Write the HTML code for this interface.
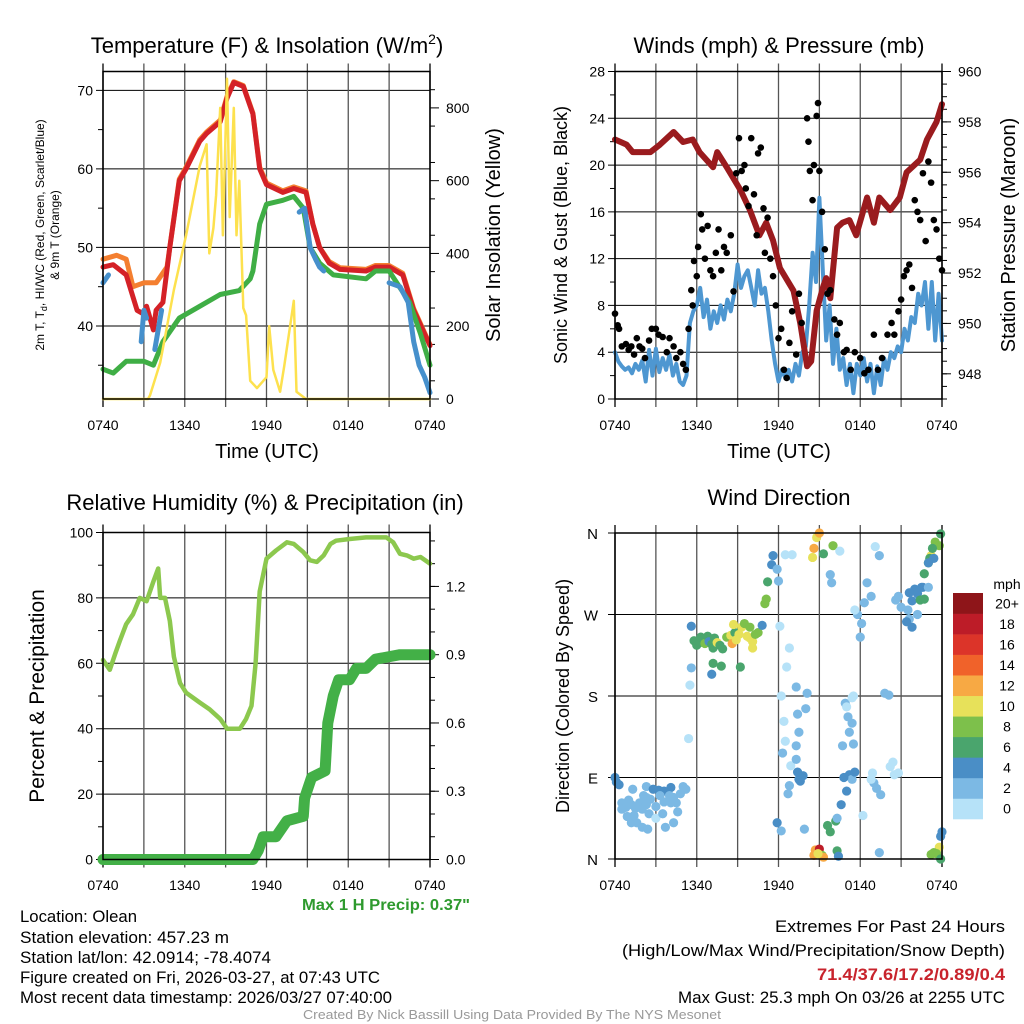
<!DOCTYPE html>
<html><head><meta charset="utf-8"><style>
html,body{margin:0;padding:0;background:#fff;}
svg{display:block;font-family:"Liberation Sans",sans-serif;}
</style></head><body>
<svg id="fig" width="1024" height="1024" viewBox="0 0 1024 1024" xmlns="http://www.w3.org/2000/svg">
<text x="267" y="53" font-size="22" text-anchor="middle">Temperature (F) &amp; Insolation (W/m<tspan font-size="14" dy="-9">2</tspan><tspan dy="9">)</tspan></text>
<text x="779" y="45" font-size="22" text-anchor="middle" dy="8">Winds (mph) &amp; Pressure (mb)</text>
<text x="265" y="510" font-size="22" text-anchor="middle">Relative Humidity (%) &amp; Precipitation (in)</text>
<text x="779" y="505" font-size="22" text-anchor="middle">Wind Direction</text>

<g font-size="12" text-anchor="middle">
<text transform="translate(44,235) rotate(-90)">2m T, T<tspan font-size="9" dy="3">d</tspan><tspan dy="-3">, HI/WC (Red, Green, Scarlet/Blue)</tspan></text>
<text transform="translate(59,235) rotate(-90)">&amp; 9m T (Orange)</text>
</g>
<text transform="translate(500,235) rotate(-90)" font-size="20" text-anchor="middle">Solar Insolation (Yellow)</text>
<text x="267" y="458" font-size="20" text-anchor="middle">Time (UTC)</text>
<text transform="translate(567,235) rotate(-90)" font-size="18" text-anchor="middle">Sonic Wind &amp; Gust (Blue, Black)</text>
<text transform="translate(1015,235) rotate(-90)" font-size="20" text-anchor="middle">Station Pressure (Maroon)</text>
<text x="779" y="458" font-size="20" text-anchor="middle">Time (UTC)</text>
<text transform="translate(44,696) rotate(-90)" font-size="21" text-anchor="middle">Percent &amp; Precipitation</text>
<text transform="translate(569,696) rotate(-90)" font-size="18" text-anchor="middle">Direction (Colored By Speed)</text>
<text x="1007" y="589" font-size="14" text-anchor="middle">mph</text>

<g id="layer"></g>

<text x="302" y="910" font-size="16" font-weight="bold" fill="#2e9a2e" textLength="168" lengthAdjust="spacingAndGlyphs">Max 1 H Precip: 0.37"</text>
<g font-size="16.5">
<text x="20" y="922" textLength="117" lengthAdjust="spacingAndGlyphs">Location: Olean</text>
<text x="20" y="943" textLength="209" lengthAdjust="spacingAndGlyphs">Station elevation: 457.23 m</text>
<text x="20" y="963" textLength="251" lengthAdjust="spacingAndGlyphs">Station lat/lon: 42.0914; -78.4074</text>
<text x="20" y="983" textLength="360" lengthAdjust="spacingAndGlyphs">Figure created on Fri, 2026-03-27, at 07:43 UTC</text>
<text x="20" y="1003" textLength="372" lengthAdjust="spacingAndGlyphs">Most recent data timestamp: 2026/03/27 07:40:00</text>
</g>
<g font-size="16.5">
<text x="775" y="932" textLength="230" lengthAdjust="spacingAndGlyphs">Extremes For Past 24 Hours</text>
<text x="622" y="956" textLength="383" lengthAdjust="spacingAndGlyphs">(High/Low/Max Wind/Precipitation/Snow Depth)</text>
<text x="817" y="980" font-weight="bold" fill="#c8232c" textLength="188" lengthAdjust="spacingAndGlyphs">71.4/37.6/17.2/0.89/0.4</text>
<text x="678" y="1003" textLength="327" lengthAdjust="spacingAndGlyphs">Max Gust: 25.3 mph On 03/26 at 2255 UTC</text>
</g>
<text x="303" y="1019" font-size="12.5" fill="#999" textLength="418" lengthAdjust="spacingAndGlyphs">Created By Nick Bassill Using Data Provided By The NYS Mesonet</text>
</svg>
<script>
// ---------- data (hours since 0740 UTC, value) ----------
const timeTickLabels = ["0740","1340","1940","0140","0740"];
const tempTicks = [40,50,60,70];
const insolTicks = [0,200,400,600,800];
const windTicks = [0,4,8,12,16,20,24,28];
const presTicks = [948,950,952,954,956,958,960];
const rhTicks = [0,20,40,60,80,100];
const precipTicks = [0.0,0.3,0.6,0.9,1.2];
const dirTickLabels = ["N","E","S","W","N"];
const speedBinLabels = ["0","2","4","6","8","10","12","14","16","18","20+"];
const speedBinColors = ["#b6e2f8","#7cb9e4","#4a8ec6","#4aa56d","#7dc04b","#e7e15a","#f7a944","#f0622a","#dc3429","#bd1c28","#8e1519"];

const tempRed = [[0,47.5],[0.75,47.8],[1.7,46.5],[2.5,42],[3,41.5],[3.2,42.5],[3.7,39.5],[3.9,42],[4.4,43],[4.9,50],[5.6,58.5],[6.1,60],[7.1,63.5],[7.6,64.5],[8.6,66],[9.1,69],[9.6,71],[10.3,70.5],[11,67],[11.5,60],[12,58],[13.2,57],[14,57.5],[14.9,57],[15.4,53],[15.9,50],[16.6,48],[17.4,47.2],[19.3,47],[20,47.5],[21,47.5],[22,46.5],[22.8,42],[24,37.5]];
const tempOrange = [[0,48.5],[1,49],[1.7,48.5],[2.2,45],[3,45.5],[3.9,45.5],[4.7,47.5],[4.9,50],[5.6,58.7],[6.1,60.2],[7.1,63.7],[7.6,64.7],[8.6,66.2],[9.1,69.2],[9.6,71.1],[10.3,70.6],[11,67.1],[11.5,60.2],[12,58.2],[13.2,57.2],[14,57.7],[14.9,57.2],[15.4,53],[15.9,50],[16.6,48.2],[17.4,47.4],[19.3,47.2],[20,47.7],[21,47.7],[22,46.7],[22.8,42.2],[24,37.6]];
const tempGreen = [[0,34.5],[0.75,34],[1.7,35.5],[3,35.5],[3.7,35],[4.4,38],[5.6,41],[7.1,42.5],[8.6,44],[10,44.5],[10.8,46],[11,47],[11.5,53],[12,55.5],[13.2,56],[14,56.5],[14.7,55],[15.2,50],[15.9,48],[16.9,46.5],[19.3,46],[20,47],[21,47],[22.5,43],[23.3,39],[24,35]];
const tempBlue = [[0,45.5],[0.4,46.5],null,[2.8,38],[3.0,42],[3.2,41],null,[3.8,37],[4.0,39],[4.3,42],null,[14.4,54.5],[14.8,55],[15.2,50],[15.6,48.5],[15.9,47.5],[16.2,47],null,[21,45.5],[21.8,45],[22.4,43],[22.8,38],[23.2,35],[23.6,33.5],[24,31.5]];
const insolation = [[0,0],[3.3,0],[3.45,10],[4.2,100],[5.2,300],[6.1,450],[7.1,640],[7.6,700],[7.8,400],[8.1,470],[8.3,560],[8.6,800],[8.8,450],[9.1,880],[9.3,500],[9.6,800],[9.8,450],[10,600],[10.3,250],[10.5,230],[10.8,50],[11.3,30],[12,60],[12.2,200],[12.5,80],[13,20],[13.3,90],[14,270],[14.2,20],[14.9,0],[24,0]];

const pressure = [[0,957.3],[0.85,957.1],[1.3,956.8],[2.6,956.8],[3.3,957.1],[4.3,957.6],[5,957.2],[5.7,957.3],[6.2,956.8],[7.2,956.2],[7.5,956.8],[8.2,956.2],[9.2,955.3],[9.9,954.5],[10.6,953.5],[11.1,954.0],[11.6,953.3],[12.1,952.2],[13.1,951.3],[13.6,950.0],[14.1,948.3],[14.4,948.5],[14.8,950.5],[15.3,951.5],[15.5,951.8],[15.8,951.0],[16.3,953.8],[16.7,954.0],[17.2,954.1],[17.7,953.5],[18.5,955.0],[19,954.0],[19.4,955.0],[20.2,954.5],[20.9,955.0],[21.4,956.0],[22.4,956.5],[22.9,957.3],[23.6,958.0],[24,958.7]];
const windHours = [0,0.25,0.5,0.75,1,1.25,1.5,1.75,2,2.25,2.5,2.75,3,3.25,3.5,3.75,4,4.25,4.5,4.75,5,5.25,5.5,5.75,6,6.25,6.5,6.75,7,7.25,7.5,7.75,8,8.25,8.5,8.75,9,9.25,9.5,9.75,10,10.25,10.5,10.75,11,11.25,11.5,11.75,12,12.25,12.5,12.75,13,13.25,13.5,13.75,14,14.25,14.5,14.75,15,15.25,15.5,15.75,16,16.25,16.5,16.75,17,17.25,17.5,17.75,18,18.25,18.5,18.75,19,19.25,19.5,19.75,20,20.25,20.5,20.75,21,21.25,21.5,21.75,22,22.25,22.5,22.75,23,23.25,23.5,23.75,24];
const windSpeed = [4.0,3.2,2.8,2.5,2.7,2.2,3.0,2.5,3.3,1.5,4.2,2.0,4.3,2.3,3.5,2.5,3.8,2.0,3.0,1.5,1.2,2,6.5,7.5,8,9.5,7,8.5,6,7.5,6.5,8,6.8,8.5,7.5,9,11.5,9.5,10.5,11,9.5,8,11,9,9.5,7.5,5,3,1.5,2.5,1.8,2.5,1.5,3,2,4,4.5,8,12.5,10,17.2,11,5,8,3,6,2.5,3.5,1.2,3,0.5,3,2,3.5,1.5,3,0.5,2.8,1.2,3.5,2.5,4,3.5,4.5,4,6,5,7,6.5,9,8,10,6,10,5,9,5];
const gusts = [[0,7.3],[0.2,6.3],[0.3,6],[0.5,4.5],[0.8,4.7],[1,4.2],[1.2,4.5],[1.4,3.8],[1.6,5.2],[1.8,4.5],[2,4.3],[2.2,3.5],[2.5,5],[2.7,6],[3,6],[3.2,5.5],[3.5,5.3],[3.8,4],[4,5.2],[4.3,4.5],[4.5,3.5],[4.8,4],[5,3],[5.2,2.5],[5.4,6],[5.6,9.3],[5.7,8],[5.8,11.8],[6,10.5],[6.1,13],[6.3,15.8],[6.4,14.5],[6.6,12],[6.8,14.8],[7,11],[7.2,10.5],[7.4,12.5],[7.6,14.5],[7.8,11],[8,13],[8.2,12.5],[8.5,14],[8.7,9.2],[8.9,19.3],[9.1,22.3],[9.3,19.5],[9.5,20],[9.6,18],[9.8,16.5],[10,22.3],[10.2,17.5],[10.4,14],[10.5,21],[10.7,21.5],[10.9,16.3],[11,12.5],[11.2,15.5],[11.4,12],[11.6,10.5],[11.8,8],[12,5.2],[12.2,6],[12.4,2.5],[12.6,1.8],[12.8,4.8],[13,7.5],[13.3,3.8],[13.5,9],[13.7,6.5],[14.1,24],[14.2,22],[14.3,19.5],[14.5,17],[14.6,20],[14.8,24.2],[14.9,25.3],[15,19.5],[15.2,16],[15.4,12.8],[15.6,9],[15.8,9.3],[16.1,6.8],[16.3,5.5],[16.5,6.5],[16.8,4],[17,4.2],[17.3,2.5],[17.6,4],[18,3.5],[18.3,2.2],[18.6,2.5],[19,5.5],[19.3,2.5],[19.6,3.5],[20,5.5],[20.3,6.5],[20.5,5.5],[20.8,7.5],[21,8.5],[21.2,10.5],[21.4,11],[21.6,11.5],[21.8,9.5],[22,17],[22.2,16],[22.4,15.3],[22.6,19.3],[22.8,13.5],[23,20.3],[23.2,18.5],[23.4,15.3],[23.6,14.5],[23.8,12],[24,11]];

const relHumidity = [[0,61],[0.5,58],[0.9,63],[1.25,67],[1.7,72],[2.2,75],[2.7,80],[3.2,79],[3.7,85],[4.05,89],[4.2,80],[4.55,80],[4.9,73],[5.2,62],[5.65,54],[6.1,51],[7.1,48],[7.8,46],[8.6,43],[9.1,40],[10.05,40],[10.5,43],[10.9,47],[11.2,60],[11.5,82],[12,92],[12.7,94.5],[13.5,97],[14,96.5],[14.7,94],[15.2,91.5],[15.7,91],[16.2,93],[16.7,96.5],[17.1,97.5],[18.1,98],[19.3,98.5],[20.8,98.5],[21.3,97],[21.8,93.5],[22.3,93],[22.8,92],[23.3,92.5],[24,90.5]];
const precip = [[0,0],[11.0,0],[11.4,0.04],[11.75,0.1],[12.7,0.1],[13.5,0.17],[14.7,0.19],[14.8,0.27],[15.3,0.36],[16.3,0.39],[16.5,0.6],[16.9,0.72],[17.3,0.79],[18.1,0.79],[18.6,0.84],[19.3,0.84],[20,0.88],[21.8,0.9],[24,0.9]];

// [hour, direction deg, speed mph]
const windDir = [[0,90,4],[0.1,85,4],[0.3,82,4],[1.3,77,2],[2.3,80,2],[2.8,77,4],[3.2,76,4],[3.6,75,4],[4.1,79,4],[5.0,80,2],[5.2,77,2],[0.5,62,2],[0.8,57,2],[1,65,2],[1.2,60,2],[1.5,56,2],[1.8,62,2],[2,55,2],[2.3,60,2],[2.6,66,2],[3,58,2],[3.3,70,2],[3.6,63,2],[4,70,2],[4.3,68,2],[4.5,62,2],[4.8,72,2],[4.6,52,2],[1.2,40,2],[1.6,40,2],[2,35,2],[2.4,33,2],[3.7,35,2],[4.3,40,2],[0.9,47,2],[1.4,48,2],[2.5,50,2],[3,45,1],[3.5,50,2],[0.5,55,2],[2.1,70,3],[2.3,68,2],[4.1,62,2],
[5.6,257,4],[5.6,211,2],[5.5,192,0],[5.4,133,0],[5.8,241,6],[6,236,7],[6.2,239,6],[6.3,245,7],[6.5,243,6],[6.6,238,8],[6.8,246,6],[6.9,240,5],[7.1,237,7],[7.2,233,6],[7.3,244,6],[7.5,239,10],[7.7,236,7],[7.9,232,6],[7.8,213,6],[7.2,216,6],[7.1,204,4],[8.2,245,8],[8.5,247,10],[8.6,238,12],[8.8,250,7],[8.9,242,10],[9.1,248,10],[9.3,256,10],[9.5,260,9],[9.7,246,10],[9.9,244,10],[10.1,240,10],[10.3,248,9],[10.5,250,8],[9.2,212,7],[10.1,233,11],[8.7,259,10],[9.9,256,8],[10.8,258,4],[11,282,8],[11.1,287,8],[11.2,306,6],[11.6,335,4],[11.5,325,4],[11.9,320,3],[12,307,2],[12.1,257,0],[12.5,336,0],[13,336,0],[12.8,233,0],[12.6,212,0],[12.2,180,0],[12.4,152,0],[12.5,130,1],[12.3,117,3],[12.9,103,1],[13.4,96,4],[13.5,88,4],[13.8,92,4],[13.6,86,4],[13.3,110,2],[13.3,125,2],[13.5,140,2],[13.4,160,2],[14,166,2],[14.1,183,2],[13.3,190,2],[11.9,40,4],[12.2,31,2],[13.9,33,2],[12.8,81,2],[12.7,72,2],
[14.6,4,12],[14.7,10,12],[15.0,11,18],[15.2,4,8],[15.3,2,12],[16.3,9,6],[16.4,3,4],[14.9,6,10],[15.6,37,6],[15.8,30,6],[16.2,42,6],[14.6,343,12],[14.8,355,10],[15.0,360,12],[15.3,337,6],[14.5,333,10],[16.0,346,8],[16.5,340,1],[15.8,314,2],[15.9,305,2],[16.3,45,2],[16.6,60,4],[17,75,4],[17.2,93,4],[17.4,88,2],[16.7,125,2],[17.2,140,2],[17.4,150,2],[16.9,172,2],[17.0,168,1],[17.1,157,2],[17.5,127,2],[17.6,96,4],[16.8,90,4],[17.4,178,0],[17.5,180,0],[17.8,270,2],[18,245,2],[18.1,260,2],[17.6,275,0],[18.5,305,2],[19.1,345,0],[18.8,290,2],[18.3,283,2],[19.4,335,2],[20.6,286,2],[19.8,183,2],[20.1,181,2],[18.9,95,1],[19,84,2],[19.2,78,2],[19.5,71,2],[18.8,88,1],[20.2,102,1],[20.5,93,0],[20.4,107,1],[20.8,95,0],[18.2,48,1],[19.4,7,2],[20.8,290,2],[21,278,2],[21.5,275,2],[21.6,265,2],[22.2,270,2],[21.8,285,4],[22.2,293,4],[22.4,286,6],[22.6,300,4],[22,298,4],[21.4,262,4],[21.8,256,4],[22.5,300,4],[23,300,2],[22.7,315,6],[23,327,8],[23.2,335,10],[23.5,350,8],[23.8,346,8],[23.9,359,6],[23.3,343,6],[23.1,332,6],[23.4,332,4],[23,327,4],[22.7,287,6],[21.6,294,4],[24,30,4],[23.9,25,4],[23.8,13,10],[23.6,6,8],[23.9,0,6],[23.2,5,8],[23.4,7,8]];

// ---------- rendering ----------
const NS = "http://www.w3.org/2000/svg";
const layer = document.getElementById('layer');
function mk(tag, attrs, parent){
  const e = document.createElementNS(NS, tag);
  for (const k in attrs) e.setAttribute(k, attrs[k]);
  (parent || layer).appendChild(e);
  return e;
}
function scale(d0,d1,r0,r1){ return v => r0 + (v-d0)/(d1-d0)*(r1-r0); }

function panel(name, x0, x1, y0, y1){
  const g = mk('g', {});
  
  
  return {g, x0, x1, y0, y1, X: scale(0,24,x0,x1)};
}
function timeAxis(p, labelY){
  for (let k=0;k<=8;k++){
    const x = p.X(k*3);
    const l = mk('line', {x1:x, x2:x, y1:p.y0-8, y2:p.y1+8, stroke: (k==0||k==8)?'#000':'#555', 'stroke-width':1.3}, p.g);
    
    
  }
  timeTickLabels.forEach((t,i)=>{
    const tx = mk('text', {x:p.X(i*6), y:labelY, 'font-size':14, 'text-anchor':'middle'}, p.g);
    tx.textContent = t;
    
    
  });
}
function hGrid(p, Y, ticks){
  ticks.forEach(v=>{
    const y = Y(v);
    const l = mk('line', {x1:p.x0-7, x2:p.x1, y1:y, y2:y, stroke:'#000', 'stroke-width':1}, p.g);
    
    
  });
}
function leftLabels(p, Y, ticks, fmt, xoff){
  ticks.forEach((v,i)=>{
    const t = mk('text', {x:p.x0-(xoff||10), y:Y(v)+5, 'font-size':14, 'text-anchor':'end'}, p.g);
    t.textContent = fmt ? fmt(v,i) : v;
    
    
  });
}
function minorTicks(p, Y, start, end, step, side){
  for (let v=start; v<=end+1e-9; v+=step){
    const y = Y(v);
    const x = side==='left'? p.x0 : p.x1;
    const d = side==='left'? -5 : 5;
    const l = mk('line', {x1:x, x2:x+d, y1:y, y2:y, stroke:'#000', 'stroke-width':1}, p.g);
    
    
  }
}
function rightAxis(p, Y, ticks, fmt){
  ticks.forEach(v=>{
    const y = Y(v);
    const l = mk('line', {x1:p.x1, x2:p.x1+9, y1:y, y2:y, stroke:'#000', 'stroke-width':1}, p.g);
    
    
    const t = mk('text', {x:p.x1+16, y:y+5, 'font-size':14}, p.g);
    t.textContent = fmt ? fmt(v) : v;
    
    
  });
}
function frame(p){
  const r = mk('rect', {x:p.x0, y:p.y0, width:p.x1-p.x0, height:p.y1-p.y0, fill:'none', stroke:'#000', 'stroke-width':1.5}, p.g);
  
  
}
function pathFrom(pts, X, Y){
  let d = '', pen = false;
  pts.forEach(pt=>{
    if (!pt){ pen=false; return; }
    d += (pen?'L':'M') + X(pt[0]).toFixed(1) + ',' + Y(pt[1]).toFixed(1);
    pen = true;
  });
  return d;
}
function series(p, name, pts, Y, color, w){
  const e = mk('path', {d:pathFrom(pts, p.X, Y), fill:'none', stroke:color, 'stroke-width':w, 'stroke-linejoin':'round', 'stroke-linecap':'round'}, p.g);
  
  
  return e;
}

// Panel 1: temperature & insolation
const p1 = panel('temperature-panel', 103, 430, 71.5, 399);
const Y1 = scale(30.7, 72.4, p1.y1, p1.y0);
const Y1r = scale(0, 900, p1.y1, p1.y0);
hGrid(p1, Y1, tempTicks);
minorTicks(p1, Y1, 35, 65, 10, 'left');
minorTicks(p1, Y1r, 50, 850, 100, 'right');
timeAxis(p1, 430);
leftLabels(p1, Y1, tempTicks);
rightAxis(p1, Y1r, insolTicks);
series(p1, 'temp-9m-orange-line', tempOrange, Y1, '#f47f30', 5);
series(p1, 'temp-2m-red-line', tempRed, Y1, '#d42127', 5);
series(p1, 'dewpoint-green-line', tempGreen, Y1, '#3fae45', 5);
series(p1, 'heat-index-blue-line', tempBlue, Y1, '#4690cc', 5);
series(p1, 'solar-insolation-line', insolation, Y1r, '#fde14e', 2.5);
frame(p1);

// Panel 2: winds & pressure
const p2 = panel('winds-panel', 615, 942, 71.5, 399);
const Y2 = scale(0, 28, p2.y1, p2.y0);
const Y2r = scale(947, 960, p2.y1, p2.y0);
hGrid(p2, Y2, windTicks);
minorTicks(p2, Y2, 2, 26, 4, 'left');
minorTicks(p2, Y2r, 947, 959.5, 0.5, 'right');
timeAxis(p2, 430);
leftLabels(p2, Y2, windTicks);
rightAxis(p2, Y2r, presTicks);
series(p2, 'sonic-wind-line', windHours.map((h,i)=>[h, windSpeed[i]]), Y2, '#4e97d1', 4);
series(p2, 'station-pressure-line', pressure, Y2r, '#9a1b1e', 6);
gusts.forEach(g=>{
  const c = mk('circle', {cx:p2.X(g[0]), cy:Y2(g[1]), r:3.3, fill:'#000'}, p2.g);
  
  
});
frame(p2);

// Panel 3: RH & precipitation
const p3 = panel('humidity-panel', 103, 430, 532.5, 859.5);
const Y3 = scale(0, 100, p3.y1, p3.y0);
const Y3r = scale(0, 1.437, p3.y1, p3.y0);
hGrid(p3, Y3, rhTicks);
minorTicks(p3, Y3, 10, 90, 20, 'left');
minorTicks(p3, Y3r, 0.1, 1.4, 0.1, 'right');
timeAxis(p3, 890);
leftLabels(p3, Y3, rhTicks);
rightAxis(p3, Y3r, precipTicks, v=>v.toFixed(1));
series(p3, 'relative-humidity-line', relHumidity, Y3, '#8cc84e', 4.5);
series(p3, 'precipitation-line', precip, Y3r, '#43b047', 11);
frame(p3);

// Panel 4: wind direction
const p4 = panel('direction-panel', 615, 942, 533, 859);
const Y4 = scale(0, 360, p4.y1, p4.y0);
const dirTicks = [0,90,180,270,360];
hGrid(p4, Y4, dirTicks);
timeAxis(p4, 890);
dirTicks.forEach((v,i)=>{
  const t = mk('text', {x:p4.x0-17, y:Y4(v)+6, 'font-size':15, 'text-anchor':'end'}, p4.g);
  t.textContent = dirTickLabels[i];
  
  
});
windDir.forEach(d=>{
  const bin = Math.min(10, Math.floor(d[2]/2));
  const c = mk('circle', {cx:p4.X(d[0]), cy:Y4(d[1]), r:4.6, fill:speedBinColors[bin]}, p4.g);
  
  
});
frame(p4);

// colorbar
const cb = mk('g', {});


const cbTop = 593, cbH = 226/11;
speedBinLabels.forEach((lab,i)=>{
  const j = 10 - i;
  const r = mk('rect', {x:953, y:cbTop + j*cbH, width:30, height:cbH+0.3, fill:speedBinColors[i]}, cb);
  
  
  const t = mk('text', {x:1007, y:cbTop + j*cbH + cbH/2 + 5, 'font-size':14, 'text-anchor':'middle'}, cb);
  t.textContent = lab;
  
  
});
</script>
</body></html>
